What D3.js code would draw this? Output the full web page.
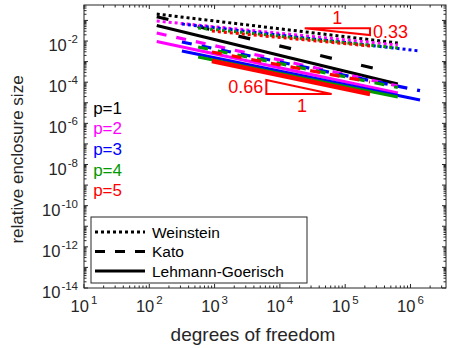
<!DOCTYPE html>
<html><head><meta charset="utf-8">
<script src="https://cdn.jsdelivr.net/npm/d3@7"></script>
<style>
body{margin:0;background:#fff}
svg{display:block}
text{font-family:"Liberation Sans",Arial,Helvetica,sans-serif}
</style>
</head><body>
<svg id="chart" width="450" height="348"></svg>
<script>
// polynomial degrees and their colours
const polyOrders = ["p=1", "p=2", "p=3", "p=4", "p=5"];
const orderColors = ["#000000", "#ff00ff", "#0000ff", "#009900", "#ff0000"];

// first and last degrees of freedom per polynomial degree
const dofStart = [130, 130, 316, 560, 910];
const dofEnd = [6.4e5, 6.4e5, 1.4e6, 6.4e5, 2.4e5];

// relative enclosure size at the first / last mesh, per method
const weinsteinSize = [[0.2046, 0.0080], [0.0935, 0.0064], [0.0668, 0.00327], [0.0428, 0.00457], [0.0305, 0.00571]];
const katoSize = [[0.151, 2.50e-4], [0.0244, 6.55e-5], [8.93e-3, 3.86e-5], [5.12e-3, 5.53e-5], [2.92e-3, 1.02e-4]];
const lgSize = [[0.0565, 8.18e-5], [9.46e-3, 2.99e-5], [3.27e-3, 1.37e-5], [1.67e-3, 1.91e-5], [1.07e-3, 2.67e-5]];

const methodNames = ["Weinstein", "Kato", "Lehmann-Goerisch"];

const xTickExps = [1, 2, 3, 4, 5, 6];
const yTickExps = [-14, -12, -10, -8, -6, -4, -2];

// slope triangles: run in dof, rise in enclosure size
const triRunX = [[2.4e4, 2.4e5], [6.2e3, 6.2e4]];
const triRiseY = [[Math.pow(10, -1.38), Math.pow(10, -1.71)], [Math.pow(10, -3.89), Math.pow(10, -4.57)]];
const triRiseLabel = ["0.33", "0.66"];
const triRunLabel = ["1", "1"];

const svg = d3.select("#chart");
const margin = {left: 84, right: 4, top: 5, bottom: 60};
const W = 450, H = 348;
const x = d3.scaleLog().domain([10, Math.pow(10, 6.544)]).range([margin.left, W - margin.right]);
const y = d3.scaleLog().domain([1e-14, Math.pow(10, -0.25)]).range([H - margin.bottom, margin.top]);
const axisColor = "#262626";

const X0 = x.range()[0], X1 = x.range()[1], Y0 = y.range()[0], Y1 = y.range()[1];

// plot background
svg.append("rect").attr("x", X0).attr("y", Y1).attr("width", X1 - X0).attr("height", Y0 - Y1).attr("fill", "#fff");

// data lines
const styles = [
  {data: weinsteinSize, dash: "3,3", width: 3},
  {data: katoSize, dash: "10,10", width: 3.2},
  {data: lgSize, dash: null, width: 3}
];
const line = d3.line().x(d => x(d[0])).y(d => y(d[1]));
const gLines = svg.append("g");
polyOrders.forEach((p, i) => {
  styles.forEach((s, k) => {
    const pts = [[dofStart[i], s.data[i][0]], [dofEnd[i], s.data[i][1]]];
    let dash = s.dash;
    if (k === 1 && i === 0) dash = "12,30";
    gLines.append("path")
      .attr("d", line(pts))
      .attr("fill", "none")
      .attr("stroke", orderColors[i])
      .attr("stroke-width", s.dash === null && i === 4 ? 4.5 : s.width)
      .attr("stroke-dasharray", dash)
      .attr("stroke-linecap", "butt");
  });
});

// slope triangles
triRunX.forEach((rx, k) => {
  const ry = triRiseY[k];
  const pts = k === 0
    ? [[rx[0], ry[0]], [rx[1], ry[0]], [rx[1], ry[1]]]
    : [[rx[0], ry[0]], [rx[0], ry[1]], [rx[1], ry[1]]];
  svg.append("path").attr("d", line(pts) + "Z")
    .attr("fill", "none").attr("stroke", "#ff0000").attr("stroke-width", 2);
});
// triangle labels
svg.append("text").attr("x", (x(triRunX[0][0]) + x(triRunX[0][1])) / 2).attr("y", y(triRiseY[0][0]) - 4)
  .attr("text-anchor", "middle").attr("font-size", 18).attr("fill", "#ff0000").text(triRunLabel[0]);
svg.append("text").attr("x", x(triRunX[0][1]) + 3).attr("y", (y(triRiseY[0][0]) + y(triRiseY[0][1])) / 2 + 6.5)
  .attr("font-size", 18).attr("fill", "#ff0000").text(triRiseLabel[0]);
svg.append("text").attr("x", x(triRunX[1][0]) - 3).attr("y", (y(triRiseY[1][0]) + y(triRiseY[1][1])) / 2 + 6.5)
  .attr("text-anchor", "end").attr("font-size", 18).attr("fill", "#ff0000").text(triRiseLabel[1]);
svg.append("text").attr("x", (x(triRunX[1][0]) + x(triRunX[1][1])) / 2 + 3).attr("y", y(triRiseY[1][1]) + 18)
  .attr("text-anchor", "middle").attr("font-size", 18).attr("fill", "#ff0000").text(triRunLabel[1]);

// p labels
polyOrders.forEach((p, i) => {
  svg.append("text").attr("x", x(Math.pow(10, 1.14))).attr("y", y(Math.pow(10, -5.25 - i)) + 6)
    .attr("font-size", 17).attr("fill", orderColors[i]).text(p);
});

// axes box and ticks
const gAx = svg.append("g").attr("stroke", axisColor).attr("stroke-width", 1).attr("fill", "none");
gAx.append("rect").attr("x", X0).attr("y", Y1).attr("width", X1 - X0).attr("height", Y0 - Y1);
const minor = [];
for (let e = 1; e <= 6; e++) for (let m = 1; m <= 9; m++) { const v = m * Math.pow(10, e); if (v <= x.domain()[1]) minor.push([v, m === 1]); }
minor.forEach(([v, major]) => {
  const px = x(v), len = major ? 4 : 2.5;
  gAx.append("line").attr("x1", px).attr("x2", px).attr("y1", Y0).attr("y2", Y0 - len);
  gAx.append("line").attr("x1", px).attr("x2", px).attr("y1", Y1).attr("y2", Y1 + len);
});
for (let e = -14; e <= -1; e++) for (let m = 1; m <= 9; m++) {
  const v = m * Math.pow(10, e); if (v > y.domain()[1]) continue;
  const py = y(v), len = m === 1 ? 4 : 2.5;
  gAx.append("line").attr("x1", X0).attr("x2", X0 + len).attr("y1", py).attr("y2", py);
  gAx.append("line").attr("x1", X1).attr("x2", X1 - len).attr("y1", py).attr("y2", py);
}

// tick labels
xTickExps.forEach(e => {
  const t = svg.append("text").attr("x", x(Math.pow(10, e))).attr("y", Y0 + 24)
    .attr("text-anchor", "middle").attr("fill", axisColor).attr("font-size", 16.5);
  t.append("tspan").text("10");
  t.append("tspan").attr("dy", -8).attr("dx", 2).attr("font-size", 11.5).text(String(e));
});
yTickExps.forEach(e => {
  const t = svg.append("text").attr("x", X0 - 6).attr("y", y(Math.pow(10, e)) + 10)
    .attr("text-anchor", "end").attr("fill", axisColor).attr("font-size", 16.5);
  t.append("tspan").text("10");
  t.append("tspan").attr("dy", -8).attr("dx", 1).attr("font-size", 11.5).text("-" + String(-e));
});

// axis titles
svg.append("text").attr("x", (X0 + X1) / 2 - 12).attr("y", 341).attr("text-anchor", "middle")
  .attr("font-size", 19).attr("fill", axisColor).text("degrees of freedom");
svg.append("text").attr("transform", `translate(23,${(Y0 + Y1) / 2 + 13}) rotate(-90)`).attr("text-anchor", "middle")
  .attr("font-size", 17).attr("fill", axisColor).text("relative enclosure size");

// legend
const lg = svg.append("g");
lg.append("rect").attr("x", 91).attr("y", 217).attr("width", 216).attr("height", 66)
  .attr("fill", "#fff").attr("stroke", axisColor).attr("stroke-width", 1);
methodNames.forEach((m, k) => {
  const cy = 232 + k * 19.5;
  lg.append("line").attr("x1", 95).attr("x2", 145).attr("y1", cy).attr("y2", cy)
    .attr("stroke", "#000").attr("stroke-width", 3).attr("stroke-dasharray", styles[k].dash);
  lg.append("text").attr("x", 152).attr("y", cy + 5.5).attr("font-size", 15.5).attr("fill", "#000").text(m);
});
</script>
</body></html>
